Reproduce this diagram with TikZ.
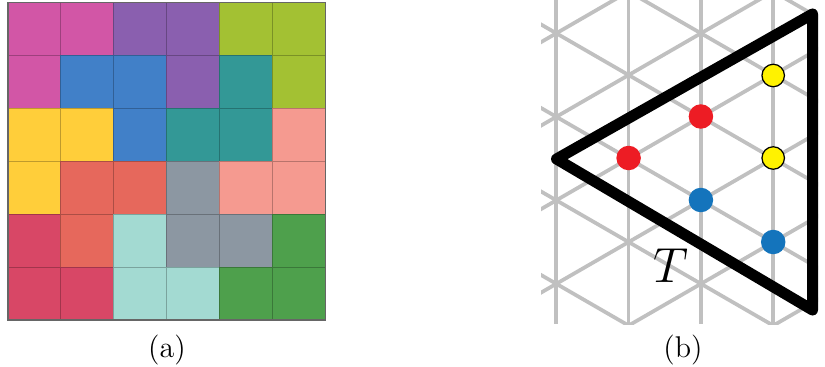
\documentclass[tikz,border=0pt]{standalone}
\usepackage{xcolor}
\usepackage{tikz}
\usepackage{amsmath, amssymb}

% Colores de las piezas
\definecolor{rosa}{HTML}{D256A6}
\definecolor{morado}{HTML}{8A5FAF}
\definecolor{lima}{HTML}{A3C133}
\definecolor{azul}{HTML}{4180C8}
\definecolor{turquesa}{HTML}{339896}
\definecolor{amarillo}{HTML}{FFCE3A}
\definecolor{salmon}{HTML}{F59A90}
\definecolor{coral}{HTML}{E6685C}
\definecolor{gris}{HTML}{8C97A2}
\definecolor{carmesi}{HTML}{D84766}
\definecolor{aguamarina}{HTML}{A3DAD2}
\definecolor{verde}{HTML}{4EA04C}

% Colores de los puntos
\definecolor{puntorojo}{HTML}{ED1C24}
\definecolor{puntoazul}{HTML}{1474BC}
\definecolor{puntoamarillo}{HTML}{FFF200}
\definecolor{lineagris}{HTML}{C0C0C0}

\begin{document}
\begin{tikzpicture}[x=0.4pt, y=-0.4pt,
  celda/.style={fill=#1, draw=#1!75!black, line width=0.4pt},
  rejilla/.style={draw=lineagris, line width=1.5pt},
  punto/.style={circle, inner sep=0pt, minimum size=9.8pt}]

\useasboundingbox (0,0) rectangle (825,366);

% Cuadrícula de colores
\foreach \j/\fila in {0/{rosa,rosa,morado,morado,lima,lima},
                      1/{rosa,azul,azul,morado,turquesa,lima},
                      2/{amarillo,amarillo,azul,turquesa,turquesa,salmon},
                      3/{amarillo,coral,coral,gris,salmon,salmon},
                      4/{carmesi,coral,aguamarina,gris,gris,verde},
                      5/{carmesi,carmesi,aguamarina,aguamarina,verde,verde}} {
  \foreach \col [count=\i from 0] in \fila {
    \draw[celda=\col] (8+52.9*\i, 2.7+52.9*\j) rectangle ++(52.9,52.9);
  }
}
\draw[black!60, line width=0.6pt] (8,2.7) rectangle (325.4,320.1);

% Red triangular
\begin{scope}
\clip (541,0) rectangle (818,324);
\foreach \k in {0,...,3}
  \draw[rejilla] (556.3+72.3*\k,0) -- ++(0,324);
\foreach \m in {-3,...,8} {
  \draw[rejilla] (556.3,33.3+83.5*\m) ++(210:200) -- ++(30:600);
  \draw[rejilla] (556.3,33.3+83.5*\m) ++(150:200) -- ++(-30:600);
}
\end{scope}

% Triángulo T
\draw[line width=4.4pt, line join=round] (556.5,159) -- (812.5,14) -- (812.5,310) -- cycle;

% Puntos
\node[punto, fill=puntorojo] (rojo1) at (628.6,158) {};
\node[punto, fill=puntorojo] (rojo2) at (700.9,116.5) {};
\node[punto, fill=puntoamarillo, draw=black, line width=0.5pt, minimum size=9pt] (amarillo1) at (773.2,75.5) {};
\node[punto, fill=puntoamarillo, draw=black, line width=0.5pt, minimum size=9pt] (amarillo2) at (773.2,158) {};
\node[punto, fill=puntoazul] (azul1) at (700.9,200) {};
\node[punto, fill=puntoazul] (azul2) at (773.2,242) {};

% Etiquetas
\node[font=\huge, scale=0.95] (T) at (671,266) {$T$};
\node[font=\large] (a) at (167,350) {(a)};
\node[font=\large] (b) at (683,350) {(b)};

\end{tikzpicture}
\end{document}
